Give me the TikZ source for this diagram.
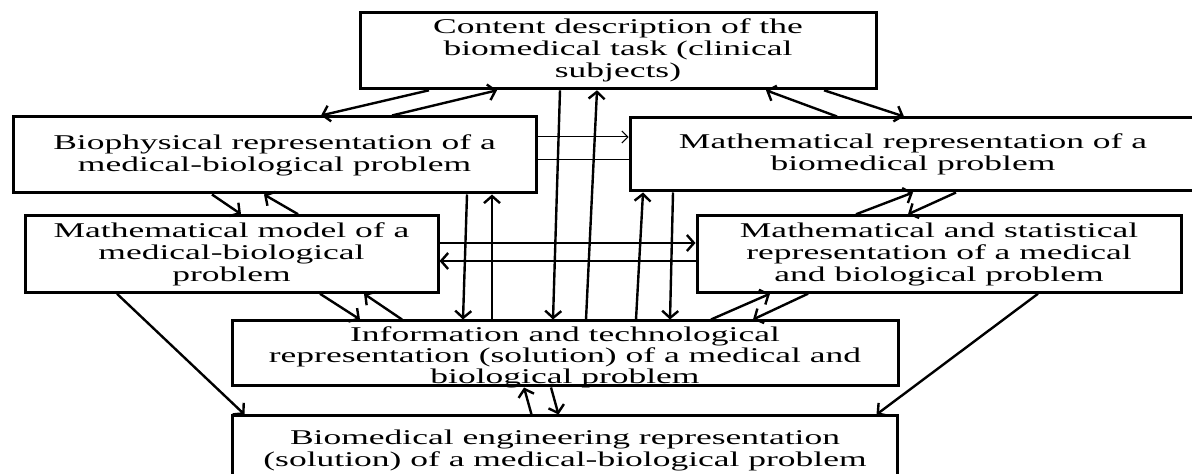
\documentclass[tikz,border=0pt]{standalone}
\usepackage{fontspec}
\setmainfont{Liberation Serif}[FakeStretch=1.69]
\usetikzlibrary{arrows.meta,positioning}

\begin{document}
\begin{tikzpicture}[
  x = 0.5pt, y = -0.5pt,
  > = {Straight Barb[length=3.5pt,width=8pt]},
  box/.style = {rectangle, draw, line width=1.5pt, align=center,
                font=\fontsize{10.5pt}{11pt}\selectfont},
  link/.style = {->, line width=1.2pt},
  thinarrow/.style = {-{Straight Barb[length=3pt,width=6pt]}, line width=0.5pt},
  thinline/.style = {line width=0.5pt}
]
\useasboundingbox (0,0) rectangle (1192,474);

% ───────── top ─────────
\node[box, minimum width=258pt, minimum height=35.5pt] (content) at (618,50.5)
  {Content description of the\\biomedical task (clinical\\subjects)};

% ───────── 2nd row ─────────
\node[box, minimum width=261.5pt, minimum height=38pt] (biophys) at (274.5,155)
  {Biophysical representation of a\\medical-biological problem};
\node[box, minimum width=283pt, minimum height=36.5pt] (mathrep) at (913,154.5)
  {Mathematical representation of a\\biomedical problem};

% ───────── 3rd row ─────────
\node[box, minimum width=206.5pt, minimum height=37pt] (mathmodel) at (231.5,254)
  {Mathematical model of a\\medical-biological\\problem};
\node[box, minimum width=242pt, minimum height=37pt] (mathstat) at (939,254)
  {Mathematical and statistical\\representation of a medical\\and biological problem};

% ───────── bottom ─────────
\node[box, minimum width=333pt, minimum height=32.5pt, inner ysep=0pt,
      font=\fontsize{10.5pt}{10.5pt}\selectfont,
      text height=31.5pt, text depth=1pt] (infotech) at (565,353.5)
  {Information and technological\\representation (solution) of a medical and\\biological problem};
\node[box, minimum width=332.5pt, minimum height=34.5pt, below=13.5pt of infotech] (bioeng)
  {Biomedical engineering representation\\(solution) of a medical-biological problem};

% ───────── arrows ──────────
\draw[link] ([xshift=-94.5pt]content.south) -- ([xshift=23.25pt]biophys.north);
\draw[link] ([xshift=58.75pt]biophys.north) -- ([xshift=-60.5pt]content.south);
\draw[link] ([xshift=-38pt]mathrep.north) -- ([xshift=74pt]content.south);
\draw[link] ([xshift=103pt]content.south) -- ([xshift=-4.5pt]mathrep.north);

\coordinate (bp1) at ([yshift=9pt]biophys.east);
\coordinate (bp2) at ([yshift=-2.5pt]biophys.east);
\draw[thinarrow] (bp1) -- (bp1 -| mathrep.west);
\draw[thinline]  (bp2) -- (bp2 -| mathrep.west);

\draw[link] ([xshift=-31.25pt]biophys.south) -- ([xshift=4.75pt]mathmodel.north);
\draw[link] ([xshift=33.25pt]mathmodel.north) -- ([xshift=-5.25pt]biophys.south);
\draw[link] ([xshift=96.25pt]biophys.south) -- ([xshift=-51pt]infotech.north);
\draw[link] ([xshift=-36.5pt]infotech.north) -- ([xshift=108.75pt]biophys.south);

\draw[link] ([xshift=-29pt]content.south) -- ([xshift=-6pt]infotech.north);
\draw[link] ([xshift=10.5pt]infotech.north) -- ([xshift=-10.5pt]content.south);

\draw[link] ([xshift=35.5pt]infotech.north) -- ([xshift=-135pt]mathrep.south);
\draw[link] ([xshift=-120pt]mathrep.south) -- ([xshift=52.5pt]infotech.north);

\draw[link] ([yshift=5.5pt]mathmodel.east) -- ([yshift=5.5pt]mathstat.west);
\draw[link] ([yshift=-3.5pt]mathstat.west) -- ([yshift=-3.5pt]mathmodel.east);

\draw[link] ([xshift=21.5pt]mathrep.south) -- ([xshift=-15.5pt]mathstat.north);
\draw[link] ([xshift=-41.5pt]mathstat.north) -- (mathrep.south);

\draw[link] ([xshift=44.25pt]mathmodel.south) -- ([xshift=-102.5pt]infotech.north);
\draw[link] ([xshift=-81.5pt]infotech.north) -- ([xshift=66.25pt]mathmodel.south);
\draw[link] ([xshift=73pt]infotech.north) -- ([xshift=-84.5pt]mathstat.south);
\draw[link] ([xshift=-65.5pt]mathstat.south) -- ([xshift=94pt]infotech.north);

\draw[link] ([xshift=-57.25pt]mathmodel.south) -- ([xshift=-160.25pt]bioeng.north);
\draw[link] ([xshift=49.5pt]mathstat.south) -- ([xshift=155.75pt]bioeng.north);
\draw[link] ([xshift=-16.75pt]bioeng.north) -- ([xshift=-20.5pt]infotech.south);
\draw[link] ([xshift=-7pt]infotech.south) -- ([xshift=-3.25pt]bioeng.north);

\end{tikzpicture}
\end{document}
